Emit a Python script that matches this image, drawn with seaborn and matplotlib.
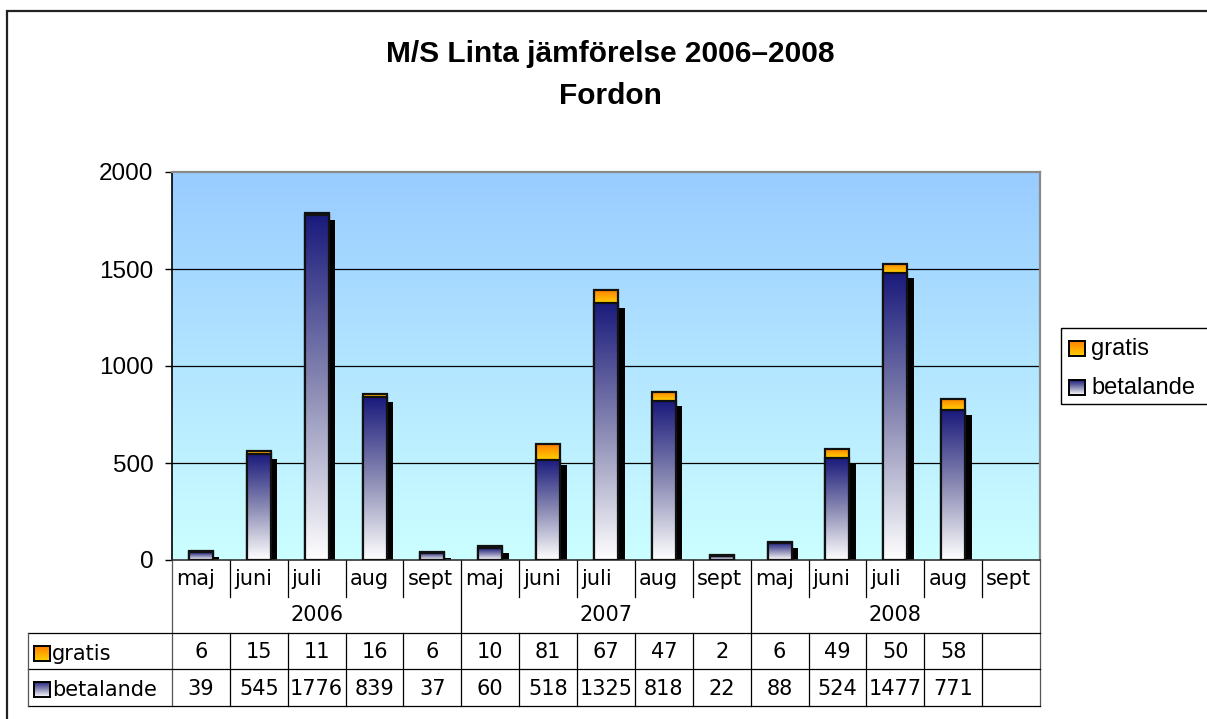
import numpy as np
import pandas as pd
import matplotlib
matplotlib.use("Agg")
import matplotlib.pyplot as plt
import matplotlib.transforms as mtransforms
from matplotlib.colors import LinearSegmentedColormap
from matplotlib.patches import Rectangle
import seaborn as sns

# ---------------- data ----------------
months = ["maj", "juni", "juli", "aug", "sept"]
years = ["2006", "2007", "2008"]
gratis = [6, 15, 11, 16, 6, 10, 81, 67, 47, 2, 6, 49, 50, 58, None]
betalande = [39, 545, 1776, 839, 37, 60, 518, 1325, 818, 22, 88, 524, 1477, 771, None]
title_lines = ["M/S Linta jämförelse 2006–2008", "Fordon"]
yticks = [0, 500, 1000, 1500, 2000]

keys = [f"{m} {y}" for y in years for m in months]
df = pd.DataFrame({
    "key": keys,
    "gratis": pd.to_numeric(pd.Series(gratis, dtype="float")),
    "betalande": pd.to_numeric(pd.Series(betalande, dtype="float")),
})
df["total"] = df["gratis"] + df["betalande"]

W, H, DPI = 1207, 719, 100
plt.rcParams["font.family"] = ["Liberation Sans", "DejaVu Sans"]
fig = plt.figure(figsize=(W / DPI, H / DPI), dpi=DPI)


def fx(px):
    return px / W


def fy(py):
    return 1 - py / H


ax = fig.add_axes([fx(172), fy(560), fx(1040) - fx(172), fy(172) - fy(560)])

cmap_bet = LinearSegmentedColormap.from_list("bet", ["#ffffff", "#8a8ab4", "#1a1a7c"])
cmap_gra = LinearSegmentedColormap.from_list("gra", ["#ffd000", "#ff8000"])
cmap_bg = LinearSegmentedColormap.from_list("bg", ["#ccffff", "#99ccff"])
grad = np.linspace(0, 1, 256).reshape(-1, 1)

# background gradient
ax.imshow(grad, extent=[0, 1, 0, 1], transform=ax.transAxes, cmap=cmap_bg,
          origin="lower", aspect="auto", zorder=0, interpolation="bicubic")

# bars via seaborn
BW = 0.415
n0 = len(ax.patches)
sns.barplot(data=df, x="key", y="total", order=keys, color="#ff9900", width=BW,
            edgecolor="#111111", linewidth=1.6, ax=ax, zorder=3)
tot_patches = ax.patches[n0:]
n1 = len(ax.patches)
sns.barplot(data=df, x="key", y="betalande", order=keys, color="#6060a0", width=BW,
            edgecolor="#111111", linewidth=1.6, ax=ax, zorder=5)
bet_patches = ax.patches[n1:]

shadow_tr = ax.transData + mtransforms.ScaledTranslation(6.5 / DPI, -5 / DPI, fig.dpi_scale_trans)

for p in tot_patches:
    h = p.get_height()
    if not np.isfinite(h) or h <= 0:
        p.set_visible(False)
        continue
    x0, w = p.get_x(), p.get_width()
    i = int(round(x0 + w / 2))
    b = df["betalande"].iloc[i]
    im = ax.imshow(grad, extent=[x0, x0 + w, b, h], cmap=cmap_gra, origin="lower",
                   aspect="auto", zorder=2.9, interpolation="bicubic")
    im.set_clip_path(p)
    p.set_facecolor("none")

for p in bet_patches:
    h = p.get_height()
    if not np.isfinite(h) or h <= 0:
        p.set_visible(False)
        continue
    x0, w = p.get_x(), p.get_width()
    ax.add_patch(Rectangle((x0, 0), w, h, transform=shadow_tr, facecolor="black",
                           edgecolor="none", zorder=2))
    im = ax.imshow(grad, extent=[x0, x0 + w, 0, h], cmap=cmap_bet, origin="lower",
                   aspect="auto", zorder=4.9, interpolation="bicubic")
    im.set_clip_path(p)
    p.set_facecolor("none")

ax.set_xlim(-0.5, len(keys) - 0.5)
ax.set_ylim(0, 2000)
for yv in yticks[1:-1]:
    ax.axhline(yv, color="black", linewidth=0.9, zorder=1)

ax.set_yticks(yticks)
ax.set_yticklabels([str(v) for v in yticks], fontsize=17.5)
ax.tick_params(axis="y", direction="out", length=5, width=1, pad=8.5, colors="black")
ax.tick_params(axis="x", length=0, labelbottom=False)
ax.set_xlabel("")
ax.set_ylabel("")
ax.spines["left"].set_color("black")
ax.spines["left"].set_linewidth(1.2)
ax.spines["bottom"].set_color("#333333")
ax.spines["bottom"].set_linewidth(1.2)
for s in ("top", "right"):
    ax.spines[s].set_color("#8a8a8a")
    ax.spines[s].set_linewidth(1.6)

# title
fig.text(fx(610), fy(62), title_lines[0], ha="center", va="baseline", fontsize=21.5,
         fontweight="bold")
fig.text(fx(610), fy(104), title_lines[1], ha="center", va="baseline", fontsize=21.5,
         fontweight="bold")

# outer frame
fig.add_artist(Rectangle((fx(7), fy(740)), fx(1230) - fx(7), fy(11) - fy(740),
                         transform=fig.transFigure, fill=False, edgecolor="#222222",
                         linewidth=1.6))

# ---------------- data table ----------------
blend = mtransforms.blended_transform_factory(ax.transData, fig.transFigure)
tfont = ["DejaVu Sans"]
TFS = 15
lc = "black"
lw = 0.9
ncat = len(keys)


def vline(xd, py0, py1, color=lc):
    ax.plot([xd, xd], [fy(py0), fy(py1)], transform=blend, clip_on=False,
            color=color, linewidth=lw)


for i in range(ncat + 1):
    xd = i - 0.5
    if i % 5 == 0:
        vline(xd, 560, 706, color=lc if 0 < i < ncat else "#555555")
    else:
        vline(xd, 560, 597)
        vline(xd, 633, 706)

for py in (633, 669, 706):
    fig.add_artist(plt.Line2D([fx(28), fx(1040)], [fy(py), fy(py)],
                              transform=fig.transFigure, color=lc, linewidth=lw))
fig.add_artist(plt.Line2D([fx(28), fx(28)], [fy(633), fy(706)],
                          transform=fig.transFigure, color="#555555", linewidth=lw))

pad_tr = blend + mtransforms.ScaledTranslation(4 / DPI, 0, fig.dpi_scale_trans)
for i, k in enumerate(keys):
    m = k.split()[0]
    ax.text(i - 0.5, fy(579), m, transform=pad_tr, ha="left", va="center",
            fontsize=TFS, family=tfont, clip_on=False)
    g = gratis[i]
    b = betalande[i]
    if g is not None:
        ax.text(i, fy(652), str(g), transform=blend, ha="center", va="center",
                fontsize=TFS, family=tfont, clip_on=False)
    if b is not None:
        ax.text(i, fy(689), str(b), transform=blend, ha="center", va="center",
                fontsize=TFS, family=tfont, clip_on=False)

for j, yr in enumerate(years):
    ax.text(j * 5 + 2, fy(615), yr, transform=blend, ha="center", va="center",
            fontsize=TFS, family=tfont, clip_on=False)


def key_box(px0, py0, pw, ph, cmap):
    kax = fig.add_axes([fx(px0), fy(py0 + ph), pw / W, ph / H])
    kax.imshow(grad, cmap=cmap, origin="lower", aspect="auto", extent=[0, 1, 0, 1],
               interpolation="bicubic")
    kax.set_xticks([])
    kax.set_yticks([])
    for s in kax.spines.values():
        s.set_linewidth(1.4)
        s.set_color("black")


key_box(34, 646, 16, 15, cmap_gra)
key_box(34, 682, 16, 15, cmap_bet)
fig.text(fx(52), fy(654), "gratis", ha="left", va="center", fontsize=TFS, family=tfont)
fig.text(fx(52), fy(690), "betalande", ha="left", va="center", fontsize=TFS, family=tfont)

# ---------------- legend ----------------
fig.add_artist(Rectangle((fx(1061), fy(404)), fx(1230) - fx(1061), fy(328) - fy(404),
                         transform=fig.transFigure, fill=False, edgecolor="black",
                         linewidth=1.0))
key_box(1069, 341, 16, 15, cmap_gra)
key_box(1069, 380, 16, 15, cmap_bet)
fig.text(fx(1091), fy(349), "gratis", ha="left", va="center", fontsize=17)
fig.text(fx(1091), fy(388), "betalande", ha="left", va="center", fontsize=17)

fig.savefig("out.png", dpi=DPI)
